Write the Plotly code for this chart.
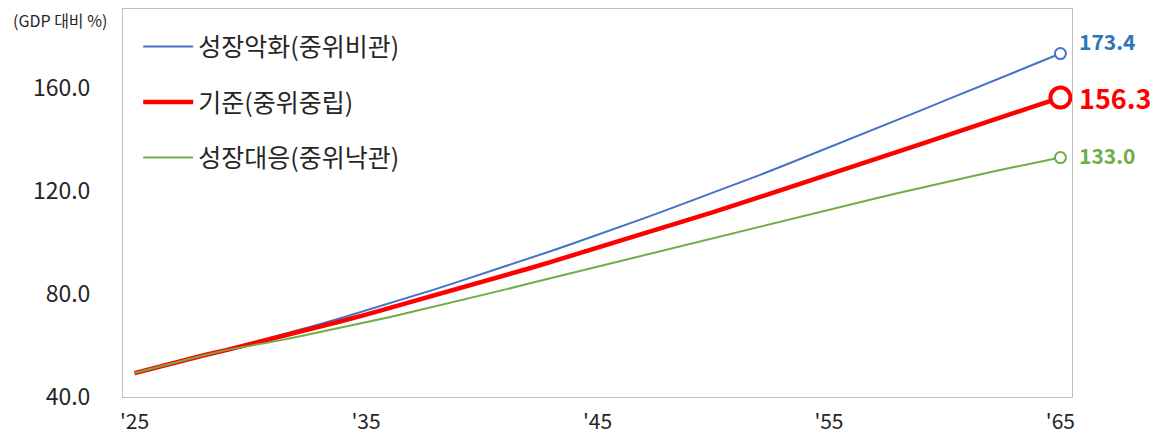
import plotly.graph_objects as go

years = list(range(2025, 2066))

# 성장악화(중위비관)
pessimistic = [
    49.3, 51.7, 54.0, 56.2, 58.4, 60.8, 63.3, 65.8, 68.3, 70.9,
    73.6, 76.3, 79.0, 81.9, 84.8, 87.7, 90.6, 93.6, 96.7, 99.8,
    102.9, 106.1, 109.4, 112.7, 116.0, 119.4, 122.8, 126.2, 129.7, 133.3,
    136.8, 140.4, 144.1, 147.7, 151.4, 155.1, 158.8, 162.4, 166.1, 169.8,
    173.4,
]
# 기준(중위중립)
baseline = [
    49.3, 51.7, 54.0, 56.2, 58.3, 60.5, 62.7, 65.0, 67.3, 69.6,
    72.0, 74.5, 77.0, 79.5, 82.0, 84.6, 87.2, 89.8, 92.5, 95.2,
    97.9, 100.6, 103.4, 106.2, 109.0, 111.8, 114.7, 117.6, 120.5, 123.4,
    126.4, 129.3, 132.3, 135.3, 138.3, 141.3, 144.3, 147.3, 150.3, 153.3,
    156.3,
]
# 성장대응(중위낙관)
optimistic = [
    49.3, 51.7, 54.0, 56.2, 58.3, 59.8, 61.5, 63.3, 65.2, 67.1,
    69.0, 71.0, 73.1, 75.2, 77.3, 79.5, 81.7, 84.0, 86.2, 88.5,
    90.7, 93.0, 95.2, 97.5, 99.7, 101.9, 104.1, 106.3, 108.5, 110.7,
    112.9, 115.0, 117.1, 119.2, 121.3, 123.4, 125.4, 127.4, 129.3, 131.2,
    133.0,
]

series_names = ["성장악화(중위비관)", "기준(중위중립)", "성장대응(중위낙관)"]
line_colors = ["#4472C4", "#FF0000", "#70AD47"]
label_colors = ["#2E75B6", "#FF0000", "#70AD47"]
line_widths = [2, 4.5, 2]
marker_sizes = [11, 20, 11]
marker_lines = [2, 4, 2]
label_sizes = [21, 27, 21]
label_yshifts = [13, 0, 3]

x_tickvals = [2025, 2035, 2045, 2055, 2065]
x_ticktext = ["'25", "'35", "'45", "'55", "'65"]
y_tickvals = [40, 80, 120, 160]

font_family = "Noto Sans CJK KR, Noto Sans, sans-serif"

fig = go.Figure()

all_series = [pessimistic, baseline, optimistic]
for i, vals in enumerate(all_series):
    fig.add_trace(go.Scatter(
        x=years, y=vals, mode="lines", name=series_names[i],
        legendgroup=f"g{i}",
        line=dict(color=line_colors[i], width=line_widths[i]),
        hoverinfo="x+y",
    ))
for i, vals in enumerate(all_series):
    # open circle on the final year
    fig.add_trace(go.Scatter(
        x=[years[-1]], y=[vals[-1]], mode="markers", showlegend=False,
        legendgroup=f"g{i}",
        marker=dict(
            size=marker_sizes[i], color="white",
            line=dict(color=line_colors[i], width=marker_lines[i]),
        ),
        hoverinfo="x+y",
    ))
    fig.add_annotation(
        x=years[-1], y=vals[-1], xref="x", yref="y",
        text=f"<b>{vals[-1]:.1f}</b>", showarrow=False,
        xanchor="left", yanchor="middle", xshift=17, yshift=label_yshifts[i],
        font=dict(family=font_family, size=label_sizes[i], color=label_colors[i]),
    )

fig.add_annotation(
    x=0, y=1, xref="paper", yref="paper", text="(GDP 대비 %)",
    showarrow=False, xanchor="right", yanchor="middle", xshift=-14, yshift=-11,
    font=dict(family=font_family, size=16, color="#262626"),
)

fig.update_layout(
    width=1156, height=440,
    margin=dict(l=123, r=84, t=9, b=43),
    paper_bgcolor="white", plot_bgcolor="white",
    font=dict(family=font_family, color="#262626"),
    showlegend=True,
    legend=dict(
        x=0.016, y=0.962, xanchor="left", yanchor="top",
        font=dict(family=font_family, size=25, color="#262626"),
        bgcolor="rgba(0,0,0,0)", tracegroupgap=20, itemwidth=50,
    ),
    xaxis=dict(
        range=[2024.5, 2065.5], tickvals=x_tickvals, ticktext=x_ticktext,
        showgrid=False, zeroline=False, showline=True, mirror=True,
        linecolor="#BFBFBF", linewidth=1, ticks="", automargin=False,
        ticklabelstandoff=6,
        tickfont=dict(family=font_family, size=21, color="#262626"),
    ),
    yaxis=dict(
        range=[40, 190.7], tickvals=y_tickvals, tickformat=".1f",
        showgrid=False, zeroline=False, showline=True, mirror=True,
        linecolor="#BFBFBF", linewidth=1, ticks="", automargin=False,
        ticklabelstandoff=27,
        tickfont=dict(family=font_family, size=23, color="#262626"),
    ),
)

fig.write_html("out.html")
